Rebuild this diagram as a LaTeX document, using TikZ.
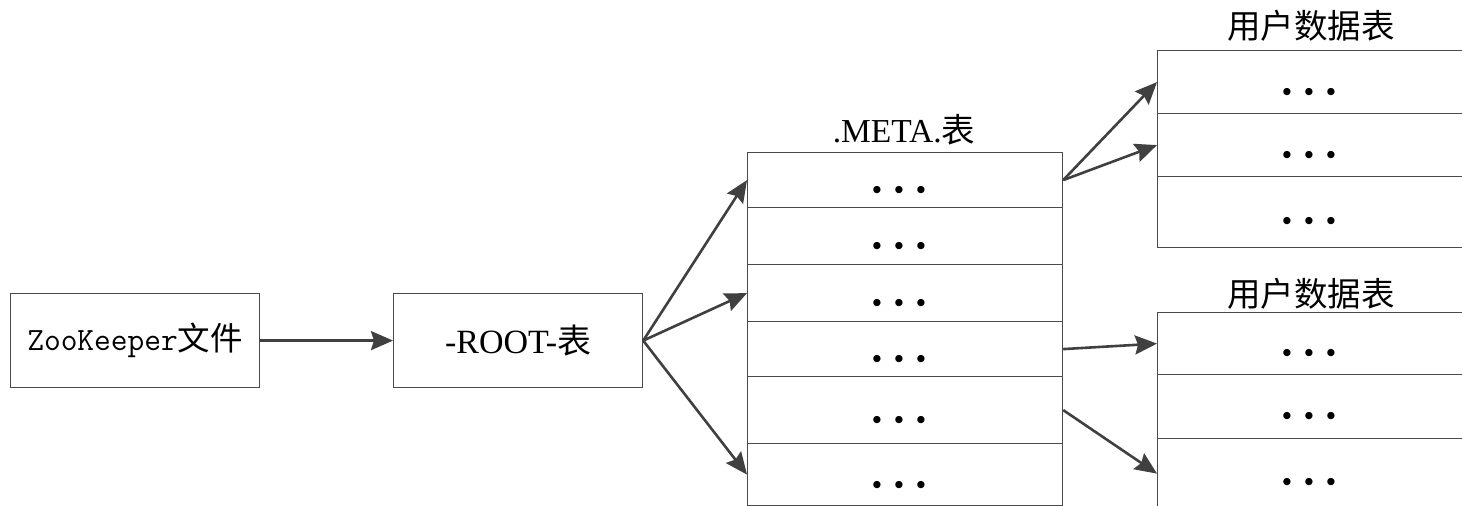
\documentclass[tikz,border=0pt]{standalone}
\usepackage{fontspec}
\setmainfont{Liberation Serif}
\newfontfamily\cjk{Noto Sans CJK SC}
\newfontfamily\dvs{DejaVu Sans}
\usetikzlibrary{arrows.meta}
\newcommand\tdots{\dvs\fontsize{9.5}{10}\selectfont\makebox[22pt]{●}\makebox[22pt]{●}\makebox[22pt]{●}}
\definecolor{boxc}{HTML}{4A4A4A}
\definecolor{arrc}{HTML}{404040}
\begin{document}
\begin{tikzpicture}[x=1pt,y=-1pt,
  box/.style={draw=boxc, line width=1.2pt, rectangle, inner sep=0pt, anchor=north west, fill=white},
  lbl/.style={font=\fontsize{33.5}{38}\selectfont, inner sep=0pt},
  dotn/.style={inner sep=0pt},
  conn/.style={draw=arrc, line width=2.6pt, -{Stealth[length=22pt,width=19pt,inset=3pt]}}]
\useasboundingbox (0,0) rectangle (1462,506);
\fill[white] (0,0) rectangle (1462,506);
\begin{scope}
\clip (0,0) rectangle (1462,506);
% left boxes
\node[box, font=\fontsize{32.5}{38}\selectfont, minimum width=249pt, minimum height=94pt] (zk) at (10,293) {\ttfamily ZooKeeper{\cjk 文件}};
\node[box, font=\fontsize{34}{38}\selectfont, minimum width=249pt, minimum height=94pt] (root) at (393,293) {-ROOT-{\cjk 表}};
% META table
\node[box, minimum width=315pt, minimum height=55pt] (m1) at (747,152) {};
\node[box, minimum width=315pt, minimum height=57pt] (m2) at (747,207) {};
\node[box, minimum width=315pt, minimum height=57pt] (m3) at (747,264) {};
\node[box, minimum width=315pt, minimum height=55pt] (m4) at (747,321) {};
\node[box, minimum width=315pt, minimum height=67pt] (m5) at (747,376) {};
\node[box, minimum width=315pt, minimum height=62pt] (m6) at (747,443) {};
\node[dotn] (md1) at (899,190) {\tdots};
\node[dotn] (md2) at (899,246) {\tdots};
\node[dotn] (md3) at (899,303) {\tdots};
\node[dotn] (md4) at (899,359) {\tdots};
\node[dotn] (md5) at (899,420) {\tdots};
\node[dotn] (md6) at (899,485) {\tdots};
\node[lbl] (mlab) at (904,130) {.META.{\cjk 表}};
% user table 1
\node[box, minimum width=306pt, minimum height=63pt] (u1) at (1157,50) {};
\node[box, minimum width=306pt, minimum height=63pt] (u2) at (1157,113) {};
\node[box, minimum width=306pt, minimum height=71pt] (u3) at (1157,176) {};
\node[dotn] (ud1) at (1309,92) {\tdots};
\node[dotn] (ud2) at (1309,155) {\tdots};
\node[dotn] (ud3) at (1309,221) {\tdots};
\node[lbl] (ulab) at (1311,26) {\cjk 用户数据表};
% user table 2
\node[box, minimum width=306pt, minimum height=62pt] (v1) at (1157,312) {};
\node[box, minimum width=306pt, minimum height=64pt] (v2) at (1157,374) {};
\node[box, minimum width=306pt, minimum height=70pt] (v3) at (1157,438) {};
\node[dotn] (vd1) at (1309,353) {\tdots};
\node[dotn] (vd2) at (1309,416) {\tdots};
\node[dotn] (vd3) at (1309,482) {\tdots};
\node[lbl] (vlab) at (1311,294) {\cjk 用户数据表};
% connectors
\draw[conn] (zk.east) -- (root.west);
\draw[conn] (root.east) -- (m1.west);
\draw[conn] (root.east) -- (m3.west);
\draw[conn] (root.east) -- (m6.west);
\draw[conn] (m1.east) -- (u1.west);
\draw[conn] (m1.east) -- (u2.west);
\draw[conn] (m4.east) -- (v1.west);
\draw[conn] (m5.east) -- (v3.west);
\end{scope}
\end{tikzpicture}
\end{document}
